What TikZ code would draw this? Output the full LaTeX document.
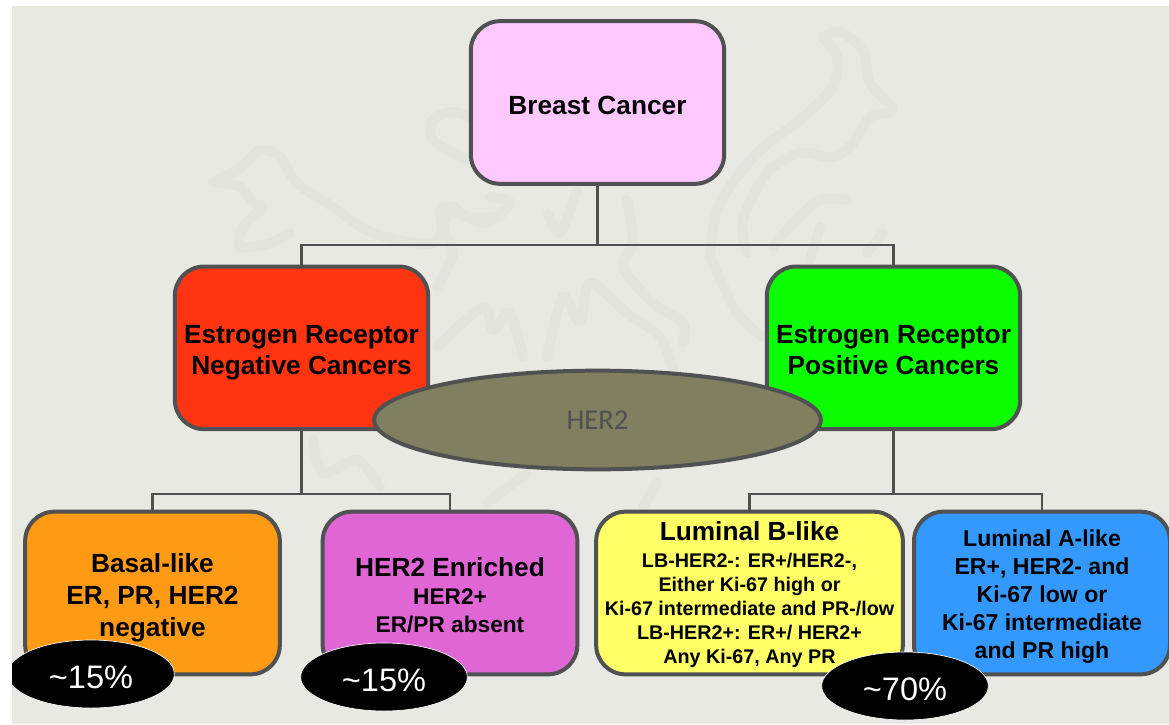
\documentclass[tikz,border=0pt]{standalone}
\usepackage{fontspec}
\setmainfont{Liberation Sans}
\newfontfamily\herfont{Carlito}
\usetikzlibrary{positioning,shapes.geometric}

\definecolor{slide}{HTML}{E8E9E3}
\definecolor{ghostline}{HTML}{E3E4DE}
\definecolor{rim}{HTML}{4F5152}
\definecolor{c_top}{HTML}{FFC8FF}
\definecolor{c_neg}{HTML}{FF3512}
\definecolor{c_pos}{HTML}{0CFF00}
\definecolor{c_basal}{HTML}{FF9A14}
\definecolor{c_enr}{HTML}{E066D6}
\definecolor{c_lumb}{HTML}{FFFF66}
\definecolor{c_luma}{HTML}{3399FF}
\definecolor{c_her}{HTML}{808060}
\newcommand{\pad}[1]{\rule{0pt}{#1}}
\tikzset{
  cbox/.style={draw=rim, line width=3pt, rounded corners=22pt, minimum height=122pt,
    align=center, text=black, inner sep=0pt},
  big/.style={font=\bfseries\fontsize{19.7}{23.5}\selectfont},
  link/.style={draw=rim, line width=2.2pt},
  ghost/.style={draw=ghostline, line width=7.5pt, line cap=round, line join=round},
  share/.style={ellipse, fill=black, draw=white, line width=0.5pt, minimum width=125pt,
    minimum height=51pt, text=white, font=\fontsize{24.4}{28}\selectfont, inner sep=0pt},
}

\begin{document}
\begin{tikzpicture}[x=0.75pt,y=-0.75pt,on grid]
   \useasboundingbox (0,0) rectangle (1169,724);
   \fill[slide] (12,6) rectangle (1169,724);

   % faint emblem behind the chart
   \draw[ghost] plot[smooth] coordinates {(213,182) (240,168) (260,150) (280,157) (297,183) (333,207) (373,233) (433,243) (450,207) (467,217) (500,217)};
   \draw[ghost] plot[smooth] coordinates {(213,182) (240,187) (253,203) (263,207) (243,227) (240,247) (270,243) (290,233)};
   \draw[ghost] plot[smooth] coordinates {(467,160) (433,140) (433,120) (453,112) (470,117)};
   \draw[ghost] plot[smooth] coordinates {(823,37) (840,32) (863,50) (870,83) (893,110) (870,117) (853,143) (833,157) (800,153) (767,173) (743,220) (747,253)};
   \draw[ghost] plot[smooth] coordinates {(823,37) (837,57) (833,87) (800,120) (757,153) (720,203) (710,253) (713,263) (737,313) (763,337)};
   \draw[ghost] plot[smooth] coordinates {(847,200) (820,200) (793,223) (773,247)};
   \draw[ghost] plot[smooth] coordinates {(820,227) (810,260)};
   \draw[ghost] plot[smooth] coordinates {(883,233) (867,253)};
   \draw[ghost] plot[smooth] coordinates {(490,197) (510,203) (483,223) (443,207) (443,230) (453,253) (437,287)};
   \draw[ghost] plot[smooth] coordinates {(577,190) (560,233) (548,213)};
   \draw[ghost] plot[smooth] coordinates {(627,200) (633,243) (623,267) (653,303) (683,323) (683,343)};
   \draw[ghost] plot[smooth] coordinates {(547,357) (563,297) (580,323) (590,283) (627,313) (660,337) (673,370)};
   \draw[ghost] plot[smooth] coordinates {(437,347) (483,307) (493,330) (510,313) (523,357)};
   \draw[ghost] plot[smooth] coordinates {(313,440) (323,473) (357,460) (380,487)};
   \draw[ghost] plot[smooth] coordinates {(527,473) (487,503)};
   \draw[ghost] plot[smooth] coordinates {(657,483) (643,507)};

   \node[cbox, big, fill=c_top, minimum width=190pt] (bc) at (597.5,102.5) {\pad{18pt}Breast Cancer};
   \node[cbox, big, fill=c_neg, minimum width=190pt] (er_neg) [below left=184pt and 222pt of bc] {\pad{21pt}Estrogen Receptor\\Negative Cancers};
   \node[cbox, big, fill=c_pos, minimum width=190pt] (er_pos) [below right=184pt and 222pt of bc] {\pad{21pt}Estrogen Receptor\\Positive Cancers\rule[-4.2pt]{0pt}{1pt}};
   \node[cbox, fill=c_basal, minimum width=191pt, font=\bfseries\fontsize{19.7}{24}\selectfont] (basal) at (152.5,593) {\pad{22pt}Basal-like\\ER, PR, HER2\\negative};
   \node[cbox, fill=c_enr, minimum width=191pt, font=\bfseries\fontsize{17}{21}\selectfont] (her2_e) at (450,593) {{\fontsize{19.7}{23}\selectfont\pad{17pt}HER2 Enriched}\\HER2+\\ER/PR absent};
   \node[cbox, fill=c_lumb, minimum width=230pt, font=\bfseries\fontsize{14.8}{18}\selectfont] (lum_b) at (749.5,593) {{\fontsize{19.7}{22}\selectfont\pad{17pt}Luminal B-like}\\[2pt]LB-HER2-: ER+/HER2-,\\Either Ki-67 high or\\Ki-67 intermediate and PR-/low\\LB-HER2+: ER+/ HER2+\\Any Ki-67, Any PR};
   \node[cbox, fill=c_luma, minimum width=192pt, font=\bfseries\fontsize{17.3}{21}\selectfont] (lum_a) at (1042,593) {\pad{18.5pt}Luminal A-like\\ER+, HER2- and\\Ki-67 low or\\Ki-67 intermediate\\and PR high};

   \node[ellipse, draw=rim, line width=3pt, fill=c_her, minimum width=335pt, minimum height=74pt, text=rim, font=\herfont\fontsize{21.5}{24}\selectfont] (her2) at (597.5,420) {HER2};

   \begin{scope}
     \clip (12,6) rectangle (1169,724);
     \node[share] (p_basal) at (91,674) {\pad{22pt}\textasciitilde 15\%};
   \end{scope}
   \node[share] (p_her2) at (384,677) {\pad{22pt}\textasciitilde 15\%};
   \node[share] (p_lum) at (905,686) {\pad{22pt}\textasciitilde 70\%};

   \coordinate (up) at (597.5,245);
   \coordinate (neg_m) at (301.5,494);
   \coordinate (pos_m) at (893.5,494);
   \draw[link] (bc.south) -- (up);
   \draw[link] (er_neg.north) -- (er_neg.north |- up) -- (er_pos.north |- up) -- (er_pos.north);
   \draw[link] (er_neg.south) -- (neg_m);
   \draw[link] (er_pos.south) -- (pos_m);
   \draw[link] (basal.north) -- (basal.north |- neg_m) -- (her2_e.north |- neg_m) -- (her2_e.north);
   \draw[link] (lum_b.north) -- (lum_b.north |- pos_m) -- (lum_a.north |- pos_m) -- (lum_a.north);
\end{tikzpicture}
\end{document}
